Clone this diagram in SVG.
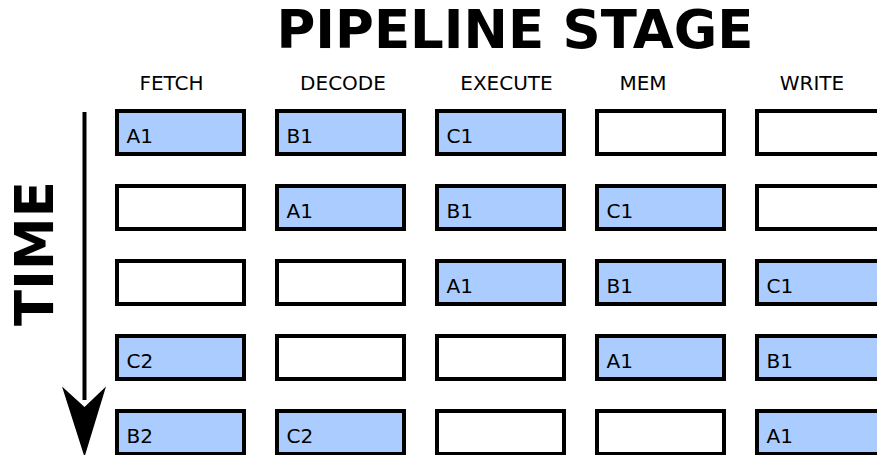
<svg xmlns="http://www.w3.org/2000/svg" width="877" height="455" viewBox="0 0 877 455">
<style>
.box{stroke:#000;stroke-width:4;fill:#fff}
.on{fill:#aaccff}
.lbl{font-family:"DejaVu Sans",sans-serif;font-size:20px;fill:#000}
.hdr{font-family:"DejaVu Sans",sans-serif;font-size:20px;fill:#000;text-anchor:middle}
.big{font-family:"DejaVu Sans",sans-serif;font-size:53px;font-weight:bold;fill:#000;text-anchor:middle}
</style>
<rect width="877" height="455" fill="#fff"/>
<text class="big" x="515" y="48">PIPELINE STAGE</text>
<text class="big" transform="translate(53,253.5) rotate(-90)">TIME</text>
<g id="headers">
<text class="hdr" x="171.5" y="90">FETCH</text>
<text class="hdr" x="343" y="90">DECODE</text>
<text class="hdr" x="506.5" y="90">EXECUTE</text>
<text class="hdr" x="643" y="90">MEM</text>
<text class="hdr" x="812" y="90">WRITE</text>
</g>
<g id="connectors">
<line x1="84.5" y1="112" x2="84.5" y2="400" stroke="#000" stroke-width="4"/>
<polygon points="84.5,457 62,386.5 84.5,407 106,386.5" fill="#000"/>
</g>
<g id="r1c1"><rect class="box on" x="117" y="111" width="127" height="43"/><text class="lbl" x="126.5" y="143">A1</text></g>
<g id="r1c2"><rect class="box on" x="277" y="111" width="127" height="43"/><text class="lbl" x="286.5" y="143">B1</text></g>
<g id="r1c3"><rect class="box on" x="437" y="111" width="127" height="43"/><text class="lbl" x="446.5" y="143">C1</text></g>
<g id="r1c4"><rect class="box" x="597" y="111" width="127" height="43"/></g>
<g id="r1c5"><rect class="box" x="757" y="111" width="127" height="43"/></g>
<g id="r2c1"><rect class="box" x="117" y="186" width="127" height="43"/></g>
<g id="r2c2"><rect class="box on" x="277" y="186" width="127" height="43"/><text class="lbl" x="286.5" y="218">A1</text></g>
<g id="r2c3"><rect class="box on" x="437" y="186" width="127" height="43"/><text class="lbl" x="446.5" y="218">B1</text></g>
<g id="r2c4"><rect class="box on" x="597" y="186" width="127" height="43"/><text class="lbl" x="606.5" y="218">C1</text></g>
<g id="r2c5"><rect class="box" x="757" y="186" width="127" height="43"/></g>
<g id="r3c1"><rect class="box" x="117" y="261" width="127" height="43"/></g>
<g id="r3c2"><rect class="box" x="277" y="261" width="127" height="43"/></g>
<g id="r3c3"><rect class="box on" x="437" y="261" width="127" height="43"/><text class="lbl" x="446.5" y="293">A1</text></g>
<g id="r3c4"><rect class="box on" x="597" y="261" width="127" height="43"/><text class="lbl" x="606.5" y="293">B1</text></g>
<g id="r3c5"><rect class="box on" x="757" y="261" width="127" height="43"/><text class="lbl" x="766.5" y="293">C1</text></g>
<g id="r4c1"><rect class="box on" x="117" y="336" width="127" height="43"/><text class="lbl" x="126.5" y="368">C2</text></g>
<g id="r4c2"><rect class="box" x="277" y="336" width="127" height="43"/></g>
<g id="r4c3"><rect class="box" x="437" y="336" width="127" height="43"/></g>
<g id="r4c4"><rect class="box on" x="597" y="336" width="127" height="43"/><text class="lbl" x="606.5" y="368">A1</text></g>
<g id="r4c5"><rect class="box on" x="757" y="336" width="127" height="43"/><text class="lbl" x="766.5" y="368">B1</text></g>
<g id="r5c1"><rect class="box on" x="117" y="411" width="127" height="43"/><text class="lbl" x="126.5" y="443">B2</text></g>
<g id="r5c2"><rect class="box on" x="277" y="411" width="127" height="43"/><text class="lbl" x="286.5" y="443">C2</text></g>
<g id="r5c3"><rect class="box" x="437" y="411" width="127" height="43"/></g>
<g id="r5c4"><rect class="box" x="597" y="411" width="127" height="43"/></g>
<g id="r5c5"><rect class="box on" x="757" y="411" width="127" height="43"/><text class="lbl" x="766.5" y="443">A1</text></g>
</svg>
